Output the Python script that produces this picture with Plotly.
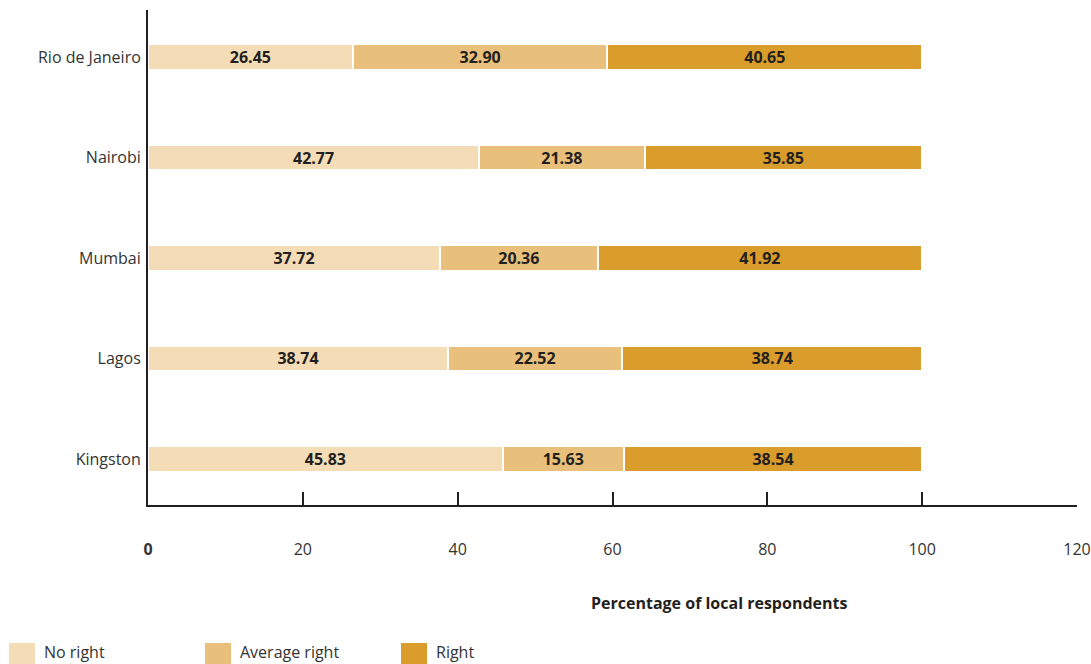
import plotly.graph_objects as go

cities = ["Kingston", "Lagos", "Mumbai", "Nairobi", "Rio de Janeiro"]
no_right = [45.83, 38.74, 37.72, 42.77, 26.45]
average_right = [15.63, 22.52, 20.36, 21.38, 32.90]
right = [38.54, 38.74, 41.92, 35.85, 40.65]

series_names = ["No right", "Average right", "Right"]
series_values = [no_right, average_right, right]
series_colors = ["#F3DCB6", "#E8C07C", "#DA9C2A"]

x_tick_vals = [0, 20, 40, 60, 80, 100, 120]
x_tick_text = ["<b>0</b>", "20", "40", "60", "80", "100", "120"]

FONT = "Open Sans"
W, H = 1091, 664
ML, MR, MT, MB = 148, 14, 10, 159
PW, PH = W - ML - MR, H - MT - MB

fig = go.Figure()
for name, vals, col in zip(series_names, series_values, series_colors):
    fig.add_trace(go.Bar(
        y=cities, x=vals, name=name, orientation="h",
        marker=dict(color=col, line=dict(color="white", width=2)),
        width=0.25,
        texttemplate="<b>%{x:.2f}</b>",
        textposition="inside", insidetextanchor="middle",
        textfont=dict(family=FONT, size=16, color="#231f20"),
        constraintext="none",
        hoverinfo="skip",
        showlegend=False,
    ))

# legend drawn as swatches + labels (pixel positions converted to paper coords)
def px_x(p):
    return (p - ML) / PW

def px_y(p):
    return (H - MB - p) / PH

shapes = []
annotations = []
legend_swatch_x = [9, 205, 401]
for name, col, sx in zip(series_names, series_colors, legend_swatch_x):
    shapes.append(dict(
        type="rect", xref="paper", yref="paper",
        x0=px_x(sx), x1=px_x(sx + 26), y0=px_y(664), y1=px_y(643),
        fillcolor=col, line=dict(width=0), layer="above",
    ))
    annotations.append(dict(
        text=name, xref="paper", yref="paper",
        x=px_x(sx + 33), y=px_y(652), xanchor="left", yanchor="middle",
        showarrow=False, font=dict(family=FONT, size=16, color="#333333"),
    ))

annotations.append(dict(
    text="<b>Percentage of local respondents</b>",
    xref="paper", yref="paper", x=px_x(719), y=px_y(603),
    xanchor="center", yanchor="middle", showarrow=False,
    font=dict(family=FONT, size=16, color="#231f20"),
))

fig.update_layout(
    barmode="stack",
    width=W, height=H,
    margin=dict(l=ML, r=MR, t=MT, b=MB, autoexpand=False),
    paper_bgcolor="white", plot_bgcolor="white",
    font=dict(family=FONT, size=16, color="#333333"),
    showlegend=False,
    xaxis=dict(
        range=[0, 120], tickvals=x_tick_vals, ticktext=x_tick_text,
        ticks="inside", ticklen=13, tickwidth=2, tickcolor="#231f20",
        showline=True, linecolor="#231f20", linewidth=2,
        showgrid=False, zeroline=False, automargin=False,
        ticklabelstandoff=29,
        tickfont=dict(family=FONT, size=16, color="#333333"),
    ),
    yaxis=dict(
        range=[-0.458, 4.468],
        showline=True, linecolor="#231f20", linewidth=2,
        showgrid=False, zeroline=False, ticks="", automargin=False,
        ticklabelstandoff=2,
        tickfont=dict(family=FONT, size=16, color="#333333"),
    ),
    shapes=shapes,
    annotations=annotations,
)

fig.write_html(
    "out.html",
    config={"displayModeBar": False},
    post_script="document.body.style.margin='0';document.body.style.overflow='hidden';",
)
